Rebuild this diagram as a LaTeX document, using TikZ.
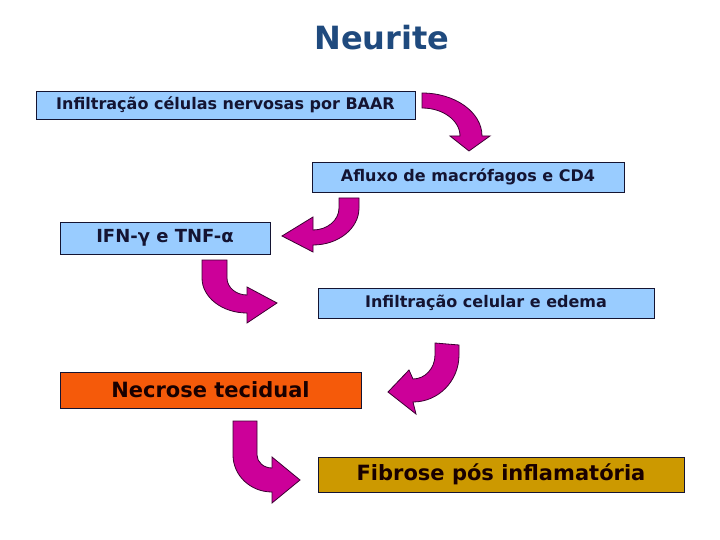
\documentclass[tikz,border=0pt]{standalone}
\usepackage{fontspec}
\setmainfont{DejaVu Sans}
\definecolor{boxblue}{RGB}{153,204,255}
\definecolor{boxline}{RGB}{20,20,50}
\definecolor{necrose}{RGB}{245,90,10}
\definecolor{fibrose}{RGB}{204,153,0}
\definecolor{bentfill}{RGB}{204,0,153}
\definecolor{bentline}{RGB}{60,0,50}
\definecolor{titleblue}{RGB}{31,74,126}
\tikzset{box/.style = {draw = boxline, fill = boxblue, inner sep = 0, font = \bfseries\fontsize{16}{18}\selectfont, text = boxline},
  bigbox/.style = {box, font = \bfseries\fontsize{21}{24}\selectfont, text = black!90!red},
  bent/.style = {draw = bentline, fill = bentfill, line width = 0.8}}

\begin{document}
\begin{tikzpicture}[x = 1pt, y = -1pt]
    \useasboundingbox [fill = white] (0, 0) rectangle (720, 540);

    \node [text = titleblue, font = \bfseries\fontsize{32}{36}\selectfont] (title) at (382, 38) {Neurite};

    \node [box, minimum width = 379, minimum height = 28] (baar) at (225.5, 105) {Infiltração células nervosas por BAAR};
    \node [box, minimum width = 312, minimum height = 30] (cd4) at (468, 177) {Afluxo de macrófagos e CD4};
    \node [box, minimum width = 210, minimum height = 32, font = \bfseries\fontsize{18}{20}\selectfont] (ifn) at (165, 238) {IFN-γ e TNF-α};
    \node [box, minimum width = 336, minimum height = 30] (edema) at (486, 303) {Infiltração celular e edema};
    \node [bigbox, fill = necrose, minimum width = 301, minimum height = 36] (necrose) at (210.5, 390) {Necrose tecidual};
    \node [bigbox, fill = fibrose, minimum width = 366, minimum height = 35] (fibrose) at (501, 474.5) {Fibrose pós inflamatória};

    \draw [bent] (422, 93) arc [start angle = -90, end angle = 0, x radius = 60, y radius = 43] -- (490, 136) -- (469, 151) -- (450, 136) -- (460, 136) arc [start angle = 0, end angle = -90, x radius = 38, y radius = 28] -- cycle;

    \draw [bent] (359, 198) -- (359, 208) arc [start angle = 0, end angle = 90, x radius = 46, y radius = 37] -- (313, 252) -- (282, 236) -- (313, 217) -- (313, 230) arc [start angle = 90, end angle = 0, x radius = 26, y radius = 22] -- (339, 198) -- cycle;

    \draw [bent] (227, 260) -- (227, 278) arc [start angle = 180, end angle = 90, x radius = 20, y radius = 17] -- (247, 287) -- (277, 303) -- (247, 323) -- (247, 313) arc [start angle = 90, end angle = 180, x radius = 45, y radius = 35] -- (202, 260) -- cycle;

    \draw [bent] (459, 345) -- (459, 355) arc [start angle = 0, end angle = 90, x radius = 46, y radius = 47] -- (416, 414) -- (388, 392) -- (409, 370) -- (413, 379) arc [start angle = 90, end angle = 0, x radius = 22, y radius = 24] -- (435, 343) -- cycle;

    \draw [bent] (233, 421) -- (233, 455) arc [start angle = 180, end angle = 90, x radius = 39, y radius = 37] -- (272, 503) -- (300, 480) -- (272, 457) -- (272, 468) arc [start angle = 90, end angle = 180, x radius = 15, y radius = 13] -- (257, 421) -- cycle;
  \end{tikzpicture}
\end{document}
